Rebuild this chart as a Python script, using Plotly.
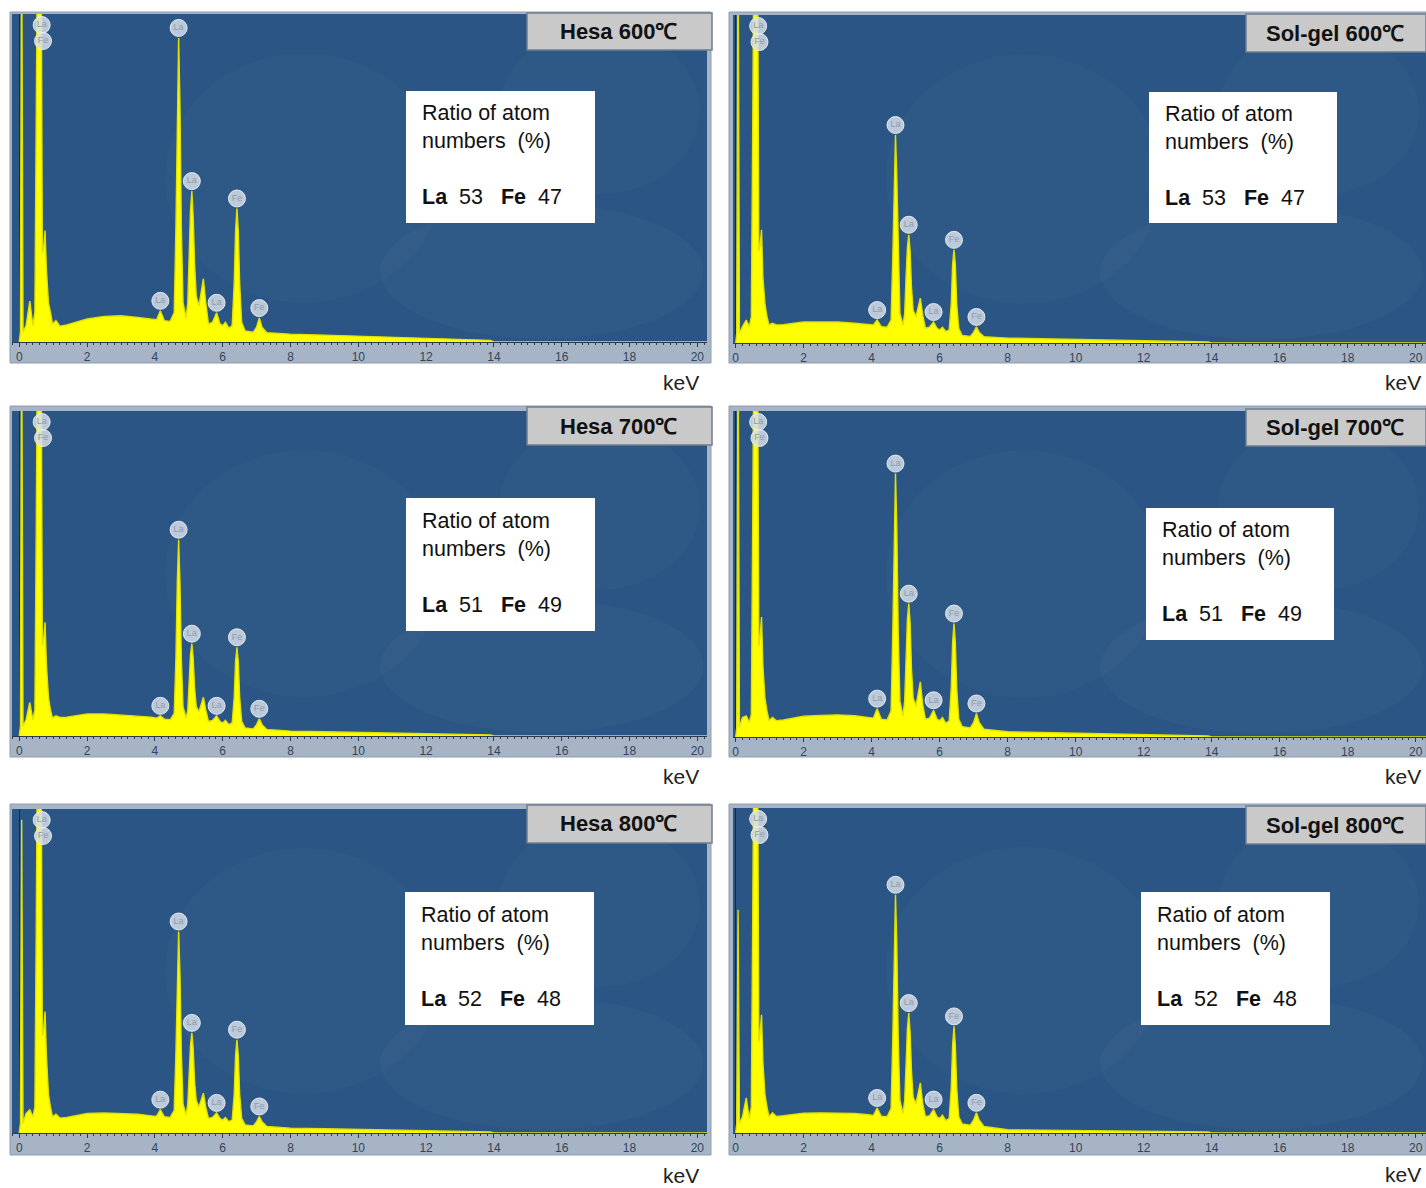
import plotly.graph_objects as go

W, H = 1426, 1188

# ---------------- data ----------------
ENERGY_KEV = [
    0.00, 0.03, 0.07, 0.11, 0.20, 0.31, 0.40, 0.46, 0.50, 0.54, 0.64, 0.68, 0.72, 0.76, 0.80, 0.86, 0.92, 0.98, 1.08, 1.20,
    1.40, 1.70, 2.00, 2.50, 3.00, 3.50, 3.90, 4.05, 4.16, 4.28, 4.45,
    4.57, 4.62, 4.66, 4.70, 4.74, 4.78, 4.83, 4.92,
    4.97, 5.01, 5.05, 5.09, 5.13, 5.17, 5.22, 5.30,
    5.37, 5.43, 5.50, 5.58, 5.70, 5.82, 5.92, 6.00, 6.08, 6.18,
    6.28, 6.34, 6.38, 6.42, 6.46, 6.50, 6.56, 6.66,
    6.90, 7.00, 7.08, 7.16, 7.30, 8.00, 9.00, 10.0, 11.0, 12.0, 13.0, 13.9, 14.0, 20.3,
]

# counts, relative to the full height of each panel (100 = top of plot)
HESA_600 = [
    0, 3, 130, 3, 5, 12.5, 5, 9, 70, 130, 130, 27, 29, 34, 22, 12, 9, 5.5, 6.5, 4.8,
    5.2, 6.2, 7.0, 7.8, 8.0, 7.5, 7.0, 6.8, 9.5, 6.5, 6.3,
    9, 35, 72, 92.7, 72, 35, 12, 7.3,
    12, 28, 40, 46, 38, 24, 14, 11,
    16, 19.3, 12, 5.5, 6, 8.9, 5.5, 5, 6, 4.2,
    5, 18, 34, 40.7, 34, 18, 6, 3.4,
    3.0, 4.5, 7.3, 4.5, 2.8, 2.4, 2.1, 1.8, 1.5, 1.2, 0.8, 0.5, 0, 0,
]
SOLGEL_600 = [
    0, 3, 130, 3, 5, 7, 5, 8, 65, 130, 130, 28, 30, 34.5, 20, 12, 8, 5.5, 6.0, 5.5,
    5.6, 6.0, 6.4, 6.4, 6.4, 6.0, 5.8, 5.5, 7, 5.0, 4.8,
    7, 26, 50, 63.4, 50, 26, 9, 5.5,
    9, 20, 29, 33, 28, 17, 10, 8,
    11, 13.7, 8.5, 4.5, 4.8, 6.4, 4.5, 4, 4.8, 3.5,
    4, 12, 24, 28.4, 24, 12, 4.5, 2.3,
    2.0, 3.3, 4.9, 3.3, 1.9, 1.5, 1.3, 1.1, 0.9, 0.7, 0.5, 0.3, 0, 0,
]
HESA_700 = [
    0, 3, 130, 3, 5, 10.3, 5, 8, 65, 130, 130, 28, 30, 35, 22, 12, 8, 5.5, 6.2, 5.7,
    5.8, 6.3, 6.8, 6.8, 6.5, 6.2, 5.8, 5.5, 6.2, 5.2, 5.0,
    7, 24, 47, 60.4, 47, 24, 9, 5.5,
    8, 18, 25, 28.4, 24, 15, 9, 7.5,
    10, 11.9, 8, 4.5, 4.8, 6.2, 4.5, 4, 4.8, 3.5,
    4, 12, 23, 27.3, 23, 12, 4.5, 2.5,
    2.2, 3.5, 5.3, 3.5, 2.0, 1.5, 1.3, 1.1, 0.9, 0.7, 0.5, 0.3, 0, 0,
]
SOLGEL_700 = [
    0, 3, 130, 3, 6, 6.5, 4.5, 7, 65, 130, 130, 28, 31, 36.8, 22, 12, 8, 5, 6.0, 5.0,
    5.2, 5.8, 6.4, 6.6, 6.8, 6.5, 6.0, 5.8, 8.7, 5.5, 5.2,
    8, 32, 63, 80.8, 63, 32, 11, 6.5,
    11, 25, 36, 40.9, 35, 21, 12, 9.5,
    14, 16.9, 10, 5.5, 5.8, 8.2, 5.5, 5, 6, 4.2,
    5, 15, 29, 34.8, 29, 15, 5.5, 3.2,
    2.8, 4.5, 7.2, 4.5, 2.4, 1.6, 1.4, 1.2, 1.0, 0.8, 0.6, 0.3, 0, 0,
]
HESA_800 = [
    0, 3, 96.7, 3, 6, 7.2, 5, 8, 65, 130, 130, 30, 32, 37.5, 24, 12, 8, 5, 5.8, 4.6,
    4.8, 5.5, 6.0, 6.2, 6.0, 5.8, 5.3, 5.2, 7.2, 5.0, 4.8,
    7, 25, 49, 62.2, 49, 25, 9, 5.5,
    9, 19, 27, 30.9, 26, 16, 10, 8,
    10.5, 12.3, 8, 4.5, 4.8, 6.2, 4.5, 4, 4.8, 3.5,
    4, 12, 24, 28.8, 24, 12, 4.5, 2.5,
    2.2, 3.5, 5.1, 3.5, 2.0, 1.5, 1.3, 1.1, 0.9, 0.7, 0.5, 0.3, 0, 0,
]
SOLGEL_800 = [
    0, 3, 68.7, 3, 5, 10.8, 4.5, 8, 65, 130, 130, 28, 31, 36.4, 22, 12, 8, 5, 6.2, 5.1,
    5.3, 5.8, 6.1, 6.2, 6.2, 6.0, 5.6, 5.4, 7.7, 5.2, 5.0,
    7.5, 29, 57, 73.3, 57, 29, 10, 6,
    10, 22, 32, 36.9, 31, 19, 11, 9,
    12.5, 15.4, 9, 5, 5.3, 7.2, 5, 4.5, 5.5, 3.8,
    4.5, 14, 27, 32.8, 27, 14, 5, 2.8,
    2.4, 4, 6.2, 4, 2.0, 1.0, 0.9, 0.8, 0.7, 0.6, 0.4, 0.3, 0, 0,
]

PANEL_TITLES = ["Hesa 600℃", "Sol-gel 600℃", "Hesa 700℃", "Sol-gel 700℃", "Hesa 800℃", "Sol-gel 800℃"]
PANEL_SPECTRA = [HESA_600, SOLGEL_600, HESA_700, SOLGEL_700, HESA_800, SOLGEL_800]
LA_RATIO = [53, 53, 51, 51, 52, 52]
FE_RATIO = [47, 47, 49, 49, 48, 48]

PEAK_ENERGY = [4.16, 4.70, 5.09, 5.82, 6.42, 7.08]
PEAK_ELEMENT = ["La", "La", "La", "La", "Fe", "Fe"]
LOW_PEAK_ELEMENT = ["La", "Fe"]      # stacked labels on the clipped low-energy peak
LOW_PEAK_ENERGY = [0.66, 0.70]

X_TICKS = [0, 2, 4, 6, 8, 10, 12, 14, 16, 18, 20]
AXIS_UNIT = "keV"

# ---------------- layout geometry (pixels) ----------------
FRAMES = [(10, 12, 711, 363), (729, 12, 1426, 363),
          (10, 406, 711, 757), (729, 406, 1426, 757),
          (10, 804, 711, 1155), (729, 804, 1426, 1155)]
PLOTS = [(12, 14, 707, 342), (733, 15, 1426, 343),
         (12, 411, 707, 736), (733, 411, 1426, 737),
         (12, 809, 707, 1133), (733, 808, 1426, 1133)]
ZERO_PX = [19.3, 735.7, 19.3, 735.7, 19.3, 735.7]
PX_PER_KEV = [33.9, 34.0, 33.9, 34.0, 33.9, 34.0]
TITLE_BOXES = [(527, 13, 712, 50), (1246, 14, 1426, 52),
               (527, 407, 712, 445), (1246, 409, 1426, 446),
               (527, 805, 712, 843), (1246, 806, 1426, 844)]
RATIO_BOXES = [(406, 91, 595, 223), (1149, 92, 1337, 223),
               (406, 498, 595, 631), (1146, 508, 1334, 640),
               (405, 892, 594, 1025), (1141, 892, 1330, 1025)]
UNIT_POS = [(681, 382), (1403, 382), (681, 776), (1403, 776), (681, 1175), (1403, 1174)]

BLUE = "#2A5584"
FRAME_GRAY = "#A6B4C5"
YELLOW = "#FFFF00"
FONT = "Liberation Sans, Arial, sans-serif"


def px(x):
    return x / W


def py(y):
    return 1 - y / H


NB = "\u00a0"

fig = go.Figure()
shapes = []
annotations = []
layout_axes = {}

for i in range(6):
    n = "" if i == 0 else str(i + 1)
    xa, ya = "x" + n, "y" + n
    fl, ft, fr, fb = FRAMES[i]
    pl, pt, pr, pb = PLOTS[i]
    z, k = ZERO_PX[i], PX_PER_KEV[i]
    spec = PANEL_SPECTRA[i]
    assert len(spec) == len(ENERGY_KEV)
    h = pb - pt

    # frame + blue plot area + soft swirls (background)
    shapes.append(dict(type="rect", xref="paper", yref="paper", layer="below",
                       x0=px(fl), x1=px(fr), y0=py(fb), y1=py(ft),
                       fillcolor=FRAME_GRAY, line=dict(color="#8E9DB0", width=1)))
    shapes.append(dict(type="rect", xref="paper", yref="paper", layer="below",
                       x0=px(pl), x1=px(pr), y0=py(pb), y1=py(pt),
                       fillcolor=BLUE, line=dict(width=0)))
    w = pr - pl
    for (a, b, c, d, op) in [(0.53, 0.58, 0.995, 0.99, 0.028), (0.22, 0.12, 0.62, 0.88, 0.018),
                             (0.70, 0.04, 0.99, 0.55, 0.018)]:
        shapes.append(dict(type="circle", xref="paper", yref="paper", layer="below",
                           x0=px(pl + a * w), x1=px(pl + c * w), y0=py(pt + d * h), y1=py(pt + b * h),
                           fillcolor="rgba(255,255,255,%.3f)" % op, line=dict(width=0)))

    # spectrum
    fig.add_trace(go.Scatter(x=ENERGY_KEV, y=spec, xaxis=xa, yaxis=ya, mode="lines",
                             fill="tozeroy", fillcolor=YELLOW,
                             line=dict(color="#E2E200", width=1.4), hoverinfo="skip"))

    # peak label bubbles
    off = 10.0 / h * 100
    bx = list(PEAK_ENERGY) + list(LOW_PEAK_ENERGY)
    by = [spec[ENERGY_KEV.index(e)] + off for e in PEAK_ENERGY]
    by += [100 - 11.0 / h * 100, 100 - 27.0 / h * 100]
    bt = list(PEAK_ELEMENT) + list(LOW_PEAK_ELEMENT)
    fig.add_trace(go.Scatter(x=bx, y=by, xaxis=xa, yaxis=ya, mode="markers+text",
                             text=bt, textposition="middle center",
                             textfont=dict(family=FONT, size=9, color="#8C9CB0"),
                             marker=dict(symbol="circle", size=17, color="rgba(214,222,232,0.85)",
                                         line=dict(color="rgba(236,240,245,0.9)", width=1)),
                             cliponaxis=False, hoverinfo="skip"))

    layout_axes["xaxis" + n] = dict(
        domain=[px(pl), px(pr)], range=[(pl - z) / k, (pr - z) / k], anchor=ya,
        tickmode="array", tickvals=X_TICKS, ticktext=[str(t) for t in X_TICKS],
        ticks="outside", ticklen=4, tickwidth=1, tickcolor="#2B3A50",
        minor=dict(dtick=0.2, tick0=0, ticks="outside", ticklen=2, tickcolor="#2B3A50", showgrid=False),
        tickfont=dict(family=FONT, size=12, color="#33445C"),
        showline=True, linecolor="#2B3A50", linewidth=1,
        showgrid=False, zeroline=True, zerolinecolor="#1C2A3C", zerolinewidth=1,
        fixedrange=True)
    layout_axes["yaxis" + n] = dict(
        domain=[py(pb), py(pt)], range=[0, 100], anchor=xa,
        showticklabels=False, ticks="", showgrid=False, zeroline=False, showline=False,
        fixedrange=True)

    # title box
    tl, tt, tr, tb = TITLE_BOXES[i]
    shapes.append(dict(type="rect", xref="paper", yref="paper", layer="above",
                       x0=px(tl), x1=px(tr), y0=py(tb), y1=py(tt),
                       fillcolor="#C9C9C9", line=dict(color="#6F7D8E", width=1.5)))
    annotations.append(dict(xref="paper", yref="paper", x=px((tl + tr) / 2 - 1), y=py((tt + tb) / 2),
                            xanchor="center", yanchor="middle", showarrow=False,
                            text="<b>%s</b>" % PANEL_TITLES[i],
                            font=dict(family=FONT, size=22, color="#111111")))

    # ratio box
    rl, rt, rr, rb = RATIO_BOXES[i]
    shapes.append(dict(type="rect", xref="paper", yref="paper", layer="above",
                       x0=px(rl), x1=px(rr), y0=py(rb), y1=py(rt),
                       fillcolor="#FFFFFF", line=dict(width=0)))
    ratio_text = ("Ratio of atom<br>numbers" + NB * 2 + "(%)<br>" + NB + "<br>"
                  + "<b>La</b>" + NB * 2 + str(LA_RATIO[i]) + NB * 3
                  + "<b>Fe</b>" + NB * 2 + str(FE_RATIO[i]))
    annotations.append(dict(xref="paper", yref="paper", x=px(rl + 14), y=py(rt + 64.5),
                            xanchor="left", yanchor="middle", align="left", showarrow=False,
                            text=ratio_text,
                            font=dict(family=FONT, size=21.5, color="#111111")))

    # unit label
    ux, uy = UNIT_POS[i]
    annotations.append(dict(xref="paper", yref="paper", x=px(ux), y=py(uy),
                            xanchor="center", yanchor="middle", showarrow=False,
                            text=AXIS_UNIT, font=dict(family=FONT, size=21, color="#222222")))

fig.update_layout(
    width=W, height=H, autosize=False,
    margin=dict(l=0, r=0, t=0, b=0, pad=0),
    paper_bgcolor="#FFFFFF", plot_bgcolor="rgba(0,0,0,0)",
    showlegend=False, shapes=shapes, annotations=annotations,
    **layout_axes,
)

fig.write_html("out.html", config={"displayModeBar": False})
